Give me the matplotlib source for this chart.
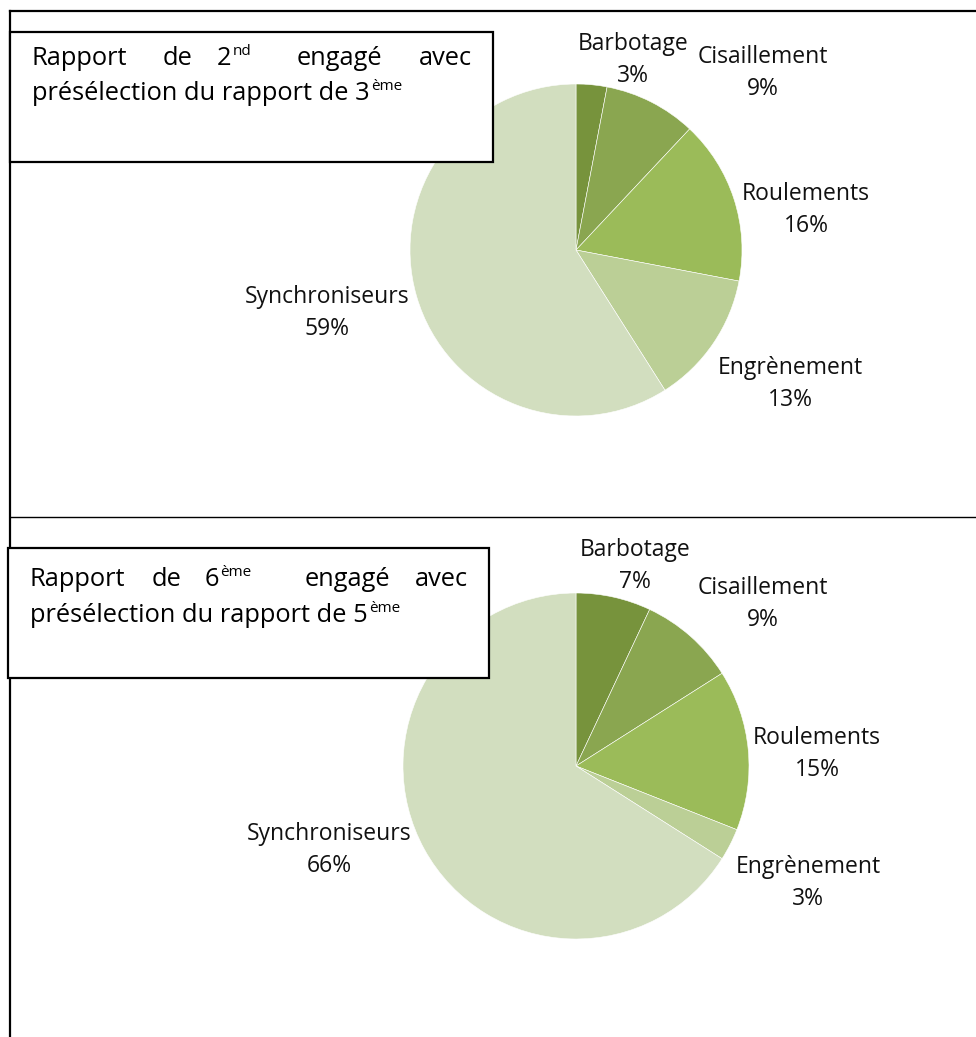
import numpy as np
import matplotlib
matplotlib.use("Agg")
import matplotlib.pyplot as plt
from matplotlib.patches import Rectangle

W, H = 976, 1037
plt.rcParams['font.family'] = ['Open Sans', 'DejaVu Sans']

# pie data, clockwise from 12 o'clock
categories = ['Barbotage', 'Cisaillement', 'Roulements', 'Engrènement', 'Synchroniseurs']
pct_2to3 = [3, 9, 16, 13, 59]
pct_6to5 = [7, 9, 15, 3, 66]
colors = ['#77933C', '#8AA650', '#9BBB59', '#BBCF96', '#D2DEBF']

fig = plt.figure(figsize=(W / 100, H / 100), dpi=100)

# background layer in pixel coordinates (y down)
bg = fig.add_axes([0, 0, 1, 1], zorder=0)
bg.set_xlim(0, W)
bg.set_ylim(H, 0)
bg.axis('off')
bg.plot([10, W], [11, 11], color='black', lw=1.6)
bg.plot([10, 10], [11, H], color='black', lw=1.6)
bg.plot([10, W], [517, 517], color='black', lw=1.0)


def add_pie(values, cx, cy, r):
    ax = fig.add_axes([(cx - r) / W, 1 - (cy + r) / H, 2 * r / W, 2 * r / H], zorder=1)
    ax.pie(values, colors=colors, startangle=90, counterclock=False, radius=1,
           wedgeprops=dict(edgecolor='white', linewidth=0.4))
    ax.set_xlim(-1, 1)
    ax.set_ylim(-1, 1)
    ax.set_aspect('auto')
    ax.axis('off')
    return ax


add_pie(pct_2to3, 576, 250, 166)
add_pie(pct_6to5, 576, 766, 173)

# overlay layer: labels and title boxes
ov = fig.add_axes([0, 0, 1, 1], zorder=2)
ov.set_xlim(0, W)
ov.set_ylim(H, 0)
ov.patch.set_alpha(0)
ov.axis('off')

label_pos_top = [(633, 60), (763, 73), (806, 210), (790, 384), (327, 313)]
label_pos_bot = [(635, 566), (763, 604), (817, 754), (808, 883), (329, 850)]

for vals, pos in [(pct_2to3, label_pos_top), (pct_6to5, label_pos_bot)]:
    for name, v, (x, y) in zip(categories, vals, pos):
        ov.text(x, y, f"{name}\n{v}%", ha='center', va='center', fontsize=16.5,
                linespacing=1.42, color='#111111')

fs_title = 18.3
fs_sup = 11
fig.canvas.draw()
renderer = fig.canvas.get_renderer()


def sup_after(t, sup, raise_px):
    bb = t.get_window_extent(renderer)
    xd = ov.transData.inverted().transform((bb.x1, 0))[0]
    yb = t.get_position()[1]
    ov.text(xd + 1, yb - raise_px, sup, ha='left', va='baseline', fontsize=fs_sup)


def title_box(x0, y0, x1, y1, base1, base2, words, sup_idx, sup1, line2, sup2):
    ov.add_patch(Rectangle((x0, y0), x1 - x0, y1 - y0, facecolor='white',
                           edgecolor='black', lw=1.6))
    for i, (w, xw) in enumerate(words):
        ha = 'right' if i == len(words) - 1 else 'left'
        t = ov.text(xw, base1, w, ha=ha, va='baseline', fontsize=fs_title)
        if i == sup_idx:
            sup_after(t, sup1, 10)
    t2 = ov.text(words[0][1], base2, line2, ha='left', va='baseline', fontsize=fs_title)
    sup_after(t2, sup2, 10)


title_box(10, 32, 493, 162, 65, 100,
          [('Rapport', 32), ('de', 163), ('2', 217), ('engagé', 297), ('avec', 472)],
          2, 'nd', 'présélection du rapport de 3', 'ème')
title_box(8, 548, 489, 678, 586, 622,
          [('Rapport', 30), ('de', 152), ('6', 205), ('engagé', 305), ('avec', 468)],
          2, 'ème', 'présélection du rapport de 5', 'ème')

fig.savefig('out.png', dpi=100)
